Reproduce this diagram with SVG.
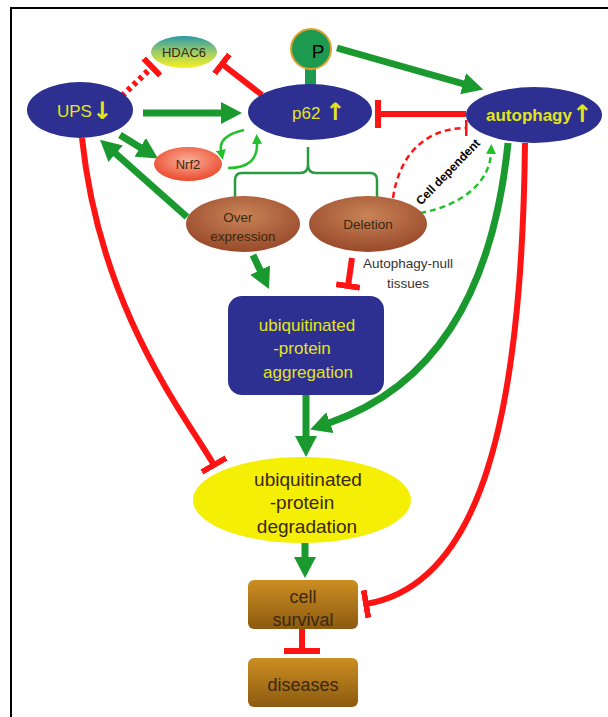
<svg xmlns="http://www.w3.org/2000/svg" width="608" height="717" viewBox="0 0 608 717">
<defs>
<style>
text{font-family:"Liberation Sans",Arial,sans-serif}
.blue{fill:#2d3091}
.yt{fill:#e4e41c;font-size:17px}
.g{stroke:#1a9a2e;fill:none;stroke-width:7}
.gl{stroke:#22c02a;fill:none;stroke-width:2.5}
.r{stroke:#ff1414;fill:none;stroke-width:6}
.dk{fill:#3a2810;text-anchor:middle}
</style>
<marker id="ga" markerUnits="userSpaceOnUse" markerWidth="21" markerHeight="22" refX="1" refY="11" orient="auto" viewBox="0 0 21 22"><path d="M0,0 L21,11 L0,22 z" fill="#1a9a2e"/></marker>
<marker id="gs" markerUnits="userSpaceOnUse" markerWidth="10" markerHeight="10" refX="1" refY="5" orient="auto" viewBox="0 0 10 10"><path d="M0,0 L10,5 L0,10 z" fill="#22c02a"/></marker>
<marker id="tb" markerUnits="userSpaceOnUse" markerWidth="6" markerHeight="28" refX="3" refY="14" orient="auto" viewBox="0 0 6 28"><rect width="6" height="28" fill="#ff1414"/></marker>
<marker id="tbm" markerUnits="userSpaceOnUse" markerWidth="6" markerHeight="24" refX="3" refY="12" orient="auto" viewBox="0 0 6 24"><rect width="6" height="24" fill="#ff1414"/></marker>
<marker id="tbl" markerUnits="userSpaceOnUse" markerWidth="6" markerHeight="36" refX="3" refY="18" orient="auto" viewBox="0 0 6 36"><rect width="6" height="36" fill="#ff1414"/></marker>
<marker id="tbs" markerUnits="userSpaceOnUse" markerWidth="3" markerHeight="16" refX="1.5" refY="8" orient="auto" viewBox="0 0 3 16"><rect width="3" height="16" fill="#ff1414"/></marker>
<linearGradient id="hd" x1="0" y1="0" x2="0" y2="1"><stop offset="0" stop-color="#2a9aa6"/><stop offset="0.5" stop-color="#9ccc6a"/><stop offset="1" stop-color="#f6f020"/></linearGradient>
<radialGradient id="nrf" cx="50%" cy="40%" r="60%"><stop offset="0" stop-color="#f8b098"/><stop offset="1" stop-color="#ec4a2e"/></radialGradient>
<radialGradient id="br" cx="50%" cy="35%" r="65%"><stop offset="0" stop-color="#c98457"/><stop offset="1" stop-color="#98492a"/></radialGradient>
<linearGradient id="bx" x1="0" y1="0" x2="0" y2="1"><stop offset="0" stop-color="#cc8e22"/><stop offset="1" stop-color="#8c5a10"/></linearGradient>
</defs>
<rect width="608" height="717" fill="#fff"/>
<path d="M11 717 V8 H608" fill="none" stroke="#000" stroke-width="2"/>

<g id="connectors">
<path class="g" d="M143 113 H222" marker-end="url(#ga)"/>
<path class="g" d="M120 135 L141 148" marker-end="url(#ga)"/>
<path class="g" d="M187 217 L115 153" marker-end="url(#ga)"/>
<path class="g" stroke-width="6" d="M337 48 L464 84" marker-end="url(#ga)"/>
<path class="r" d="M466 114 H378" marker-end="url(#tb)"/>
<path class="r" d="M262 95 L222 64" marker-end="url(#tbm)"/>
<path class="r" stroke-width="4" stroke-dasharray="4 4" d="M122 96 L152 67" marker-end="url(#tbm)"/>
<path class="gl" d="M244 130 Q218 136 221 151" marker-end="url(#gs)"/>
<path class="gl" d="M228 168 Q258 168 257 143" marker-end="url(#gs)"/>
<path fill="none" stroke="#2a9a40" stroke-width="2.5" d="M308 147 V165 Q308 173 300 173 H242 Q235 173 235 180 V198 M308 165 Q308 173 316 173 H370 Q377 173 377 180 V198"/>
<path class="g" d="M253 255 L260.5 271" marker-end="url(#ga)"/>
<path class="r" stroke-width="5" d="M352 258 L348 286" marker-end="url(#tbm)"/>
<path fill="none" stroke="#ff1414" stroke-width="2.5" stroke-dasharray="6 4" d="M393 198 C400 150 430 128 466 128" marker-end="url(#tbs)"/>
<path class="gl" stroke-dasharray="6 4" d="M420 213 C465 205 490 180 491 153" marker-end="url(#gs)"/>
<path class="g" stroke-width="6" d="M508 143 C492 300 430 388 329 423" marker-end="url(#ga)"/>
<path class="r" d="M525 143 C522 420 480 585 366 604" marker-end="url(#tb)"/>
<path class="r" d="M82 138 C100 310 185 415 214 465" marker-end="url(#tb)"/>
<path class="g" d="M306 395 V437" marker-end="url(#ga)"/>
<path class="g" d="M305 543 V558" marker-end="url(#ga)"/>
<path class="r" d="M302 629 V651" marker-end="url(#tbl)"/>
<text x="448" y="176" transform="rotate(-46 448 172)" text-anchor="middle" font-size="12" font-weight="bold" fill="#000">Cell dependent</text>
<text x="408" y="268" text-anchor="middle" font-size="13.5" fill="#333">Autophagy-null</text>
<text x="408" y="288" text-anchor="middle" font-size="13.5" fill="#333">tissues</text>
</g>

<g id="UPS">
<ellipse class="blue" cx="80" cy="110" rx="53" ry="28"/>
<text x="57" y="117" class="yt">UPS<tspan font-family="DejaVu Sans" font-weight="bold" font-size="24" dy="2">↓</tspan></text>
</g>
<g id="HDAC6">
<ellipse cx="184" cy="52" rx="33" ry="16" fill="url(#hd)"/>
<text x="184" y="57" class="dk" font-size="13" fill="#333">HDAC6</text>
</g>
<g id="P">
<rect x="305" y="66" width="11" height="20" fill="#1e9a50"/>
<circle cx="311" cy="49" r="20" fill="#1e9a50" stroke="#e0a030" stroke-width="2"/>
<text x="318" y="58" text-anchor="middle" font-size="19" fill="#000">P</text>
</g>
<g id="p62">
<ellipse class="blue" cx="310" cy="112" rx="62" ry="28"/>
<text x="292" y="119" class="yt">p62 <tspan font-family="DejaVu Sans" font-weight="bold" font-size="24" dy="1">↑</tspan></text>
</g>
<g id="autophagy">
<ellipse class="blue" cx="534" cy="115" rx="68" ry="28"/>
<text x="486" y="121" class="yt" font-weight="bold">autophagy<tspan font-family="DejaVu Sans" font-size="24" dy="1">↑</tspan></text>
</g>
<g id="Nrf2">
<ellipse cx="188" cy="164" rx="34" ry="17" fill="url(#nrf)"/>
<text x="188" y="169" class="dk" font-size="13" fill="#3a1a10">Nrf2</text>
</g>
<g id="overexpression">
<ellipse cx="243" cy="224" rx="57" ry="28" fill="url(#br)"/>
<text x="238" y="222" class="dk" font-size="13.5">Over</text>
<text x="243" y="241" class="dk" font-size="13.5">expression</text>
</g>
<g id="deletion">
<ellipse cx="368" cy="224" rx="59" ry="28" fill="url(#br)"/>
<text x="368" y="229" class="dk" font-size="13.5">Deletion</text>
</g>
<g id="aggregation">
<rect class="blue" x="228" y="296" width="156" height="99" rx="14"/>
<text x="307" y="331" text-anchor="middle" class="yt" font-size="19">ubiquitinated</text>
<text x="302" y="354" text-anchor="middle" class="yt" font-size="19">-protein</text>
<text x="308" y="378" text-anchor="middle" class="yt" font-size="19">aggregation</text>
</g>
<g id="degradation">
<ellipse cx="302" cy="500" rx="109" ry="43" fill="#f5ef05"/>
<text x="308" y="486" class="dk" font-size="19" fill="#3e3a10">ubiquitinated</text>
<text x="302" y="509" class="dk" font-size="19" fill="#3e3a10">-protein</text>
<text x="307" y="533" class="dk" font-size="19" fill="#3e3a10">degradation</text>
</g>
<g id="cellsurvival">
<rect x="248" y="580" width="110" height="49" rx="6" fill="url(#bx)"/>
<text x="303" y="603" class="dk" font-size="18">cell</text>
<text x="303" y="626" class="dk" font-size="18">survival</text>
</g>
<g id="diseases">
<rect x="248" y="658" width="110" height="49" rx="6" fill="url(#bx)"/>
<text x="303" y="691" class="dk" font-size="18">diseases</text>
</g>
</svg>
